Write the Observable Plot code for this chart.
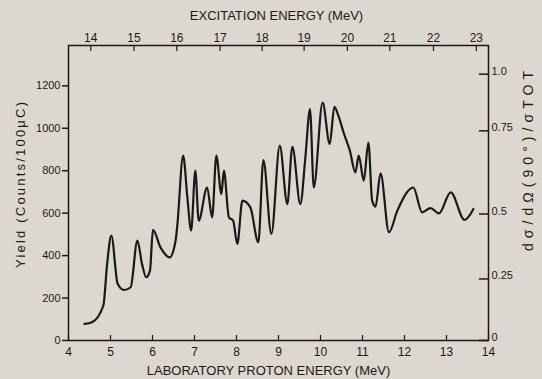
<!DOCTYPE html>
<html>
<head>
<meta charset="utf-8">
<script src="https://cdn.jsdelivr.net/npm/d3@7"></script>
<script src="https://cdn.jsdelivr.net/npm/@observablehq/plot@0.6"></script>
<style>
  html, body { margin: 0; padding: 0; background: #dcd8cf; }
  #chart svg { display: block; background: #dcd8cf; }
</style>
</head>
<body>
<div id="chart"></div>
<script>
// Laboratory proton energy (MeV) and yield (counts / 100 µC)
const labEnergy = [4.38,4.56,4.83,4.92,5.02,5.17,5.32,5.48,5.64,5.75,5.85,5.94,6.01,6.19,6.41,6.55,6.59,6.73,6.83,6.92,7.02,7.10,7.30,7.42,7.52,7.64,7.70,7.82,7.92,8.02,8.14,8.33,8.52,8.64,8.83,9.03,9.21,9.33,9.52,9.64,9.75,9.84,10.05,10.22,10.33,10.44,10.55,10.70,10.83,10.91,11.03,11.14,11.23,11.31,11.43,11.63,11.83,12.21,12.42,12.62,12.82,13.10,13.43,13.64];
const yieldValues = [78,86,165,361,494,267,238,251,471,361,298,329,521,439,392,471,541,871,674,518,800,565,721,580,871,690,800,580,565,455,659,627,463,850,502,918,643,913,643,863,1090,721,1121,926,1101,1051,980,894,792,871,753,933,659,631,787,510,612,721,604,624,599,698,568,620];

// bottom axis ticks (lab energy)
const bottomTicks = [4,5,6,7,8,9,10,11,12,13,14];
// left axis ticks (yield)
const leftTicks = [0,200,400,600,800,1000,1200];
// top axis: excitation energy labels and their lab-energy positions
const topLabels = ["14","15","16","17","18","19","20","21","22","23"];
const topLabPositions = [4.53,5.56,6.58,7.61,8.61,9.61,10.64,11.65,12.69,13.71];
// right axis: ratio labels and their yield-scale positions
const rightLabels = ["0","0.25","0.5","0.75","1.0"];
const rightYieldPositions = [0,290,596,988,1255];

const ink = "#1c1816";
const font = "Liberation Sans, DejaVu Sans, sans-serif";

const curve = labEnergy.map((e, i) => ({e, y: yieldValues[i]}));
const topTicks = topLabels.map((t, i) => ({x: topLabPositions[i], t}));
const rightTicks = rightLabels.map((t, i) => ({y: rightYieldPositions[i], t}));

const W = 542, H = 379, mL = 68, mR = 54, mT = 45, mB = 39;
const frameW = W - mL - mR, frameH = H - mT - mB;

const chart = Plot.plot({
  width: W,
  height: H,
  marginLeft: mL,
  marginRight: mR,
  marginTop: mT,
  marginBottom: mB,
  style: {background: "#dcd8cf", color: ink, fontFamily: font, fontSize: "11px"},
  x: {domain: [4, 14]},
  y: {domain: [0, 1390]},
  marks: [
    Plot.frame({stroke: ink, strokeWidth: 1.5}),
    // bottom axis labels + inward ticks
    Plot.axisX({ticks: bottomTicks, tickSize: 0, tickPadding: 7, label: null, fontSize: 12}),
    Plot.tickX(bottomTicks, {x: d => d, insetTop: frameH - 5, stroke: ink, strokeWidth: 1.2}),
    // left axis
    Plot.axisY({ticks: leftTicks, tickFormat: d => String(d), tickSize: 6, tickPadding: 2, label: null, stroke: ink, strokeWidth: 1.5, fontSize: 11}),
    // top axis (excitation energy)
    Plot.tickX(topTicks, {x: "x", insetBottom: frameH - 6, stroke: ink, strokeWidth: 1.2}),
    Plot.text(topTicks, {x: "x", text: "t", frameAnchor: "top", dy: -4, lineAnchor: "bottom", fontSize: 12, fill: ink}),
    // right axis (ratio)
    Plot.tickY(rightTicks, {y: "y", insetLeft: frameW - 9, stroke: ink, strokeWidth: 1.5}),
    Plot.text(rightTicks, {y: "y", text: "t", frameAnchor: "right", dx: 3, dy: -3, textAnchor: "start", fontSize: 11, fill: ink}),
    // titles
    Plot.text(["EXCITATION ENERGY (MeV)"], {frameAnchor: "top", dy: -26, dx: -2, lineAnchor: "bottom", fontSize: 13, fill: ink}),
    Plot.text(["LABORATORY PROTON ENERGY (MeV)"], {frameAnchor: "bottom", dy: 34, dx: -10, lineAnchor: "bottom", fontSize: 13, fill: ink}),
    Plot.text(["Yield (Counts/100\u03BCC)"], {frameAnchor: "left", textAnchor: "middle", dx: -48, dy: -8, rotate: -90, fontSize: 13, fill: ink, className: "llabel"}),
    Plot.text(["d\u03C3/d\u03A9(90\u00B0)/\u03C3TOT"], {frameAnchor: "right", textAnchor: "middle", dx: 40, dy: -32, rotate: -90, fontSize: 14, fill: ink, className: "rlabel"}),
    // data curve
    Plot.line(curve, {x: "e", y: "y", curve: "monotone-x", stroke: ink, strokeWidth: 2.2})
  ]
});
d3.select(chart).selectAll(".llabel text").attr("textLength", 166).attr("lengthAdjust", "spacing");
d3.select(chart).selectAll(".rlabel text").attr("textLength", 180).attr("lengthAdjust", "spacing");
document.getElementById("chart").appendChild(chart);
</script>
</body>
</html>
